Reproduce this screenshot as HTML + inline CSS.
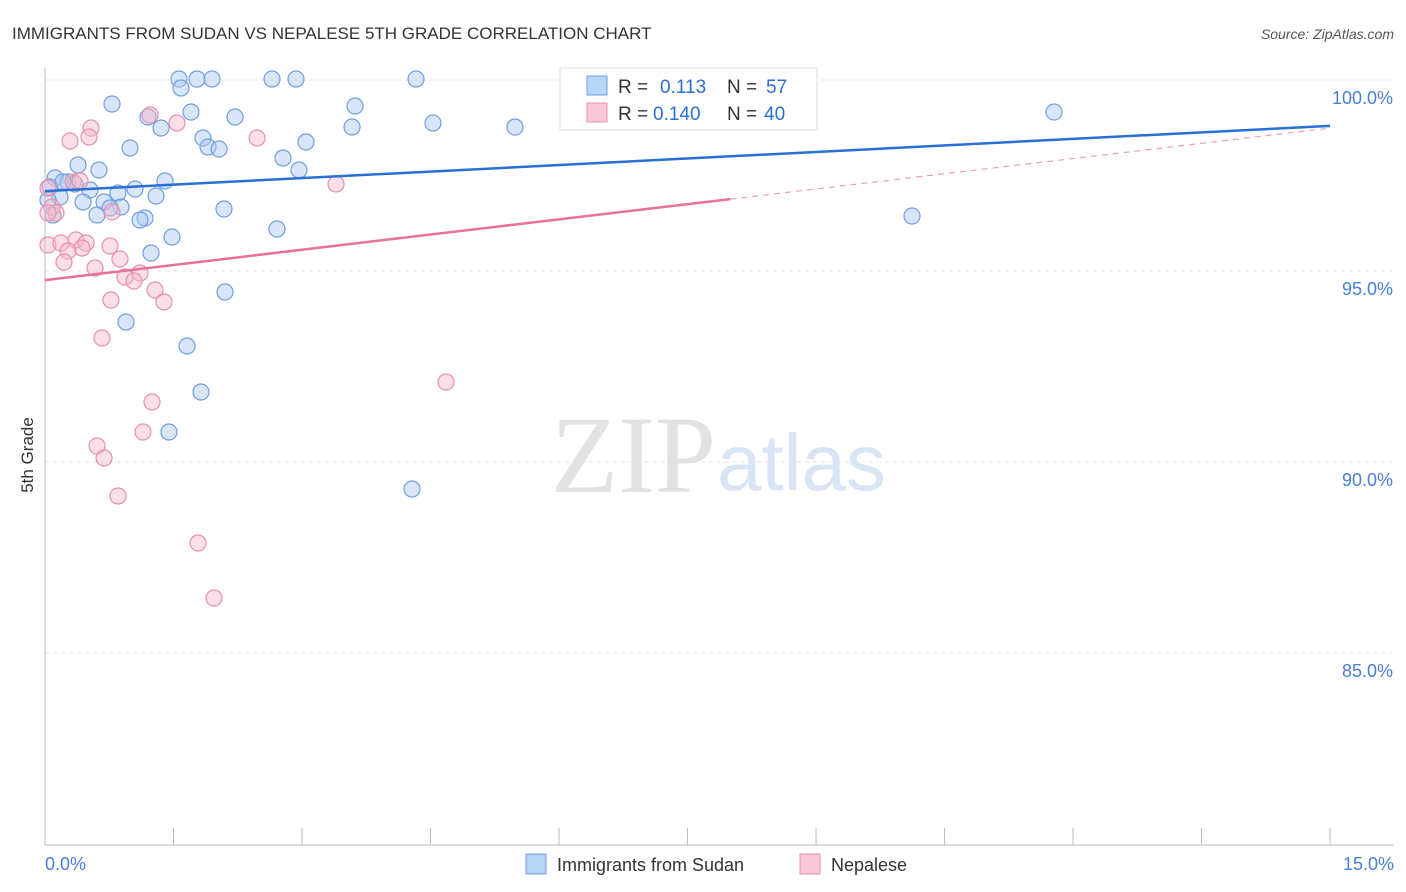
<!DOCTYPE html>
<html><head><meta charset="utf-8"><style>
body{margin:0;background:#fff;font-family:"Liberation Sans",sans-serif;}
svg{display:block}
</style></head><body>
<svg id="chart" width="1406" height="892" xmlns="http://www.w3.org/2000/svg">
<text x="12" y="39" font-size="17" fill="#333">IMMIGRANTS FROM SUDAN VS NEPALESE 5TH GRADE CORRELATION CHART</text>
<text x="1394" y="39" font-size="14" fill="#555" font-style="italic" text-anchor="end">Source: ZipAtlas.com</text>
<text x="33" y="455" font-size="17" fill="#333" transform="rotate(-90 33 455)" text-anchor="middle">5th Grade</text>
<text x="716" y="492" font-size="110" fill="#e2e2e2" font-family="Liberation Serif,serif" text-anchor="end">ZIP</text>
<text x="717" y="490" font-size="80" fill="#d8e5f5">atlas</text>
<g id="grid"></g><g id="axes"></g><g id="pts"></g><g id="lines"></g>
<g>
<rect x="560" y="68" width="257" height="62" fill="#fff" stroke="#ddd"/>
<rect x="587" y="76" width="20" height="19" fill="#b8d4f6" stroke="#6fa0e0"/>
<text x="618" y="93" font-size="19" fill="#333">R = </text><text x="660" y="93" font-size="19" fill="#2a6fd6">0.113</text>
<text x="727" y="93" font-size="19" fill="#333">N = </text><text x="766" y="93" font-size="19" fill="#2a6fd6">57</text>
<rect x="587" y="103" width="20" height="19" fill="#f8c8d8" stroke="#e890b0"/>
<text x="618" y="120" font-size="19" fill="#333">R = </text><text x="653" y="120" font-size="19" fill="#2a6fd6">0.140</text>
<text x="727" y="120" font-size="19" fill="#333">N = </text><text x="764" y="120" font-size="19" fill="#2a6fd6">40</text>
</g>
<g>
<rect x="526" y="854" width="20" height="20" fill="#b8d4f6" stroke="#6fa0e0"/>
<text x="557" y="871" font-size="18" fill="#333">Immigrants from Sudan</text>
<rect x="800" y="854" width="20" height="20" fill="#f8c8d8" stroke="#e890b0"/>
<text x="831" y="871" font-size="18" fill="#333">Nepalese</text>
</g>
</svg>
<script>
const yTicks=[100,95,90,85];
const yTickLabels=["100.0%","95.0%","90.0%","85.0%"];
const xTickLabels=["0.0%","15.0%"];
const sudanPx=[[179,79],[197,79],[212,79],[272,79],[296,79],[416,79],[181,88],[112,104],[191,112],[355,106],[148,117],[235,117],[161,128],[352,127],[433,123],[515,127],[1054,112],[203,138],[306,142],[208,147],[219,149],[130,148],[283,158],[78,165],[99,170],[299,170],[55,178],[68,182],[75,184],[165,181],[50,187],[90,190],[118,193],[135,189],[156,196],[60,197],[83,202],[104,202],[121,207],[110,208],[224,209],[53,215],[97,215],[145,218],[140,220],[277,229],[172,237],[151,253],[225,292],[126,322],[187,346],[201,392],[169,432],[412,489],[912,216],[48,200],[63,182]];
const nepalPx=[[70,141],[91,128],[89,137],[150,115],[177,123],[257,138],[336,184],[73,182],[80,181],[48,188],[52,207],[56,213],[112,212],[48,245],[61,243],[76,240],[86,243],[82,248],[68,251],[64,262],[110,246],[120,259],[95,268],[140,273],[125,277],[134,281],[155,290],[164,302],[111,300],[102,338],[446,382],[152,402],[143,432],[97,446],[104,458],[118,496],[198,543],[214,598],[682,104],[48,213]];
const sudanX=sudanPx.map(p=>+((p[0]-45)/85.67).toFixed(3));
const sudanY=sudanPx.map(p=>+(100-(p[1]-80)/38.2).toFixed(3));
const nepalX=nepalPx.map(p=>+((p[0]-45)/85.67).toFixed(3));
const nepalY=nepalPx.map(p=>+(100-(p[1]-80)/38.2).toFixed(3));
const sudanTrend=[97.09,98.80];
const nepalTrend=[94.76,98.74];
const nepalSolidEnd=8.0;
const X=v=>45+v*85.67, Y=v=>80+(100-v)*38.2;
const NS="http://www.w3.org/2000/svg";
function mk(t,a,p){const e=document.createElementNS(NS,t);for(const k in a)e.setAttribute(k,a[k]);document.getElementById(p).appendChild(e);return e;}
yTicks.forEach((t,i)=>{
 const l=mk('line',{x1:45,x2:1394,y1:Y(t),y2:Y(t),stroke:'#e4e4e4','stroke-dasharray':'4,4'},'grid');
 
 
 const tx=mk('text',{x:1393,y:Y(t)+24,'font-size':18,fill:'#4a7fd8','text-anchor':'end'},'axes');
 tx.textContent=yTickLabels[i];
 
 
});
const ya=mk('line',{x1:45,x2:45,y1:68,y2:845,stroke:'#bbb'},'axes');


const xa=mk('line',{x1:45,x2:1394,y1:845,y2:845,stroke:'#bbb'},'axes');


for(let i=0;i<=10;i++){const t=mk('line',{x1:X(i*1.5),x2:X(i*1.5),y1:828,y2:845,stroke:'#bbb'},'axes');
 
 }
[[0,'start',45],[15,'end',1394]].forEach((d,i)=>{const t=mk('text',{x:d[2],y:870,'font-size':18,fill:'#4a7fd8','text-anchor':d[1]},'axes');t.textContent=xTickLabels[i];
 
 });
function pts(xs,ys,fill,stroke,name){xs.forEach((x,i)=>{const c=mk('circle',{cx:X(x),cy:Y(ys[i]),r:8,fill:fill,'fill-opacity':0.45,stroke:stroke,'stroke-width':1.2},'pts');
 
 });}
pts(sudanX,sudanY,'#a8c8f0','#6fa0e0','sudan-point');
pts(nepalX,nepalY,'#f4b8cc','#e890b0','nepalese-point');
const bl=mk('line',{x1:X(0),y1:Y(sudanTrend[0]),x2:X(15),y2:Y(sudanTrend[1]),stroke:'#2a6fd6','stroke-width':2.5},'lines');


const ny=v=>nepalTrend[0]+(nepalTrend[1]-nepalTrend[0])*v/15;
const pl=mk('line',{x1:X(0),y1:Y(ny(0)),x2:X(nepalSolidEnd),y2:Y(ny(nepalSolidEnd)),stroke:'#e8709a','stroke-width':2.5},'lines');


const pd=mk('line',{x1:X(nepalSolidEnd),y1:Y(ny(nepalSolidEnd)),x2:X(15),y2:Y(ny(15)),stroke:'#e8a0b8','stroke-width':1.2,'stroke-dasharray':'6,5'},'lines');


</script>
</body></html>
